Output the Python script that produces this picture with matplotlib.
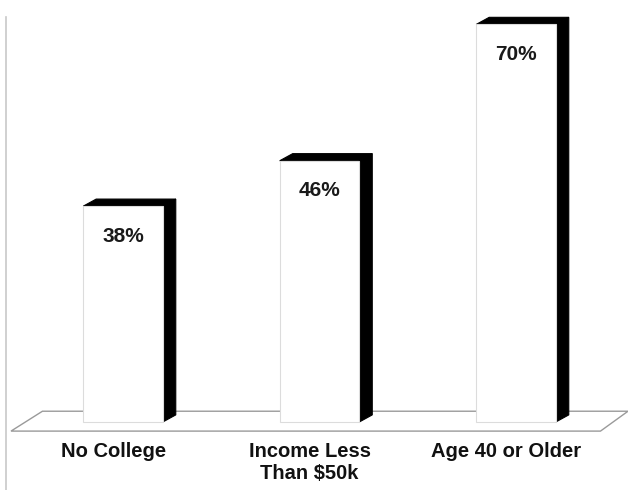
import matplotlib
matplotlib.use('Agg')
import matplotlib.pyplot as plt
from matplotlib.patches import Polygon, Rectangle

categories = ['No College', 'Income Less\nThan $50k', 'Age 40 or Older']
values = [38, 46, 70]
value_labels = ['38%', '46%', '70%']

plt.rcParams['font.family'] = ['Liberation Sans', 'DejaVu Sans']

fig = plt.figure(figsize=(6.28, 4.9), dpi=100, facecolor='white')
ax = fig.add_axes([0, 0, 1, 1])
ax.set_xlim(-0.626, 2.57)
ax.set_ylim(-11.97, 74.3)
ax.axis('off')

width = 0.405
dx, dy = 0.066, 1.25  # depth offset for the 3D look

# floor slab
floor = Polygon([(-0.57, -1.6), (2.43, -1.6), (2.57, 1.9), (-0.41, 1.9)],
                closed=True, facecolor='white', edgecolor='#9a9a9a', lw=1.0, zorder=1)
ax.add_patch(floor)

# thin frame line on the left
ax.plot([-0.595, -0.595], [-12.0, 71.3], color='#c8c8c8', lw=1.2, zorder=0)

for i, (v, lab) in enumerate(zip(values, value_labels)):
    xl = i - width / 2
    xr = i + width / 2
    # right side face
    side = Polygon([(xr, 0), (xr + dx, dy), (xr + dx, v + dy), (xr, v)],
                   closed=True, facecolor='black', edgecolor='black', lw=0.8, zorder=2)
    # top face
    top = Polygon([(xl, v), (xl + dx, v + dy), (xr + dx, v + dy), (xr, v)],
                  closed=True, facecolor='black', edgecolor='black', lw=0.8, zorder=2)
    front = Rectangle((xl, 0), width, v, facecolor='white', edgecolor='#dcdcdc',
                      lw=0.8, zorder=3)
    ax.add_patch(side)
    ax.add_patch(top)
    ax.add_patch(front)
    ax.text(i, v - 5.3, lab, ha='center', va='center', fontsize=15,
            fontweight='bold', color='#1a1a1a', zorder=4)

for i, cat in enumerate(categories):
    ax.text(i - 0.05, -3.6, cat, ha='center', va='top', fontsize=14.5,
            fontweight='bold', color='#111111', linespacing=1.2)

fig.savefig('out.png', dpi=100, facecolor='white')
